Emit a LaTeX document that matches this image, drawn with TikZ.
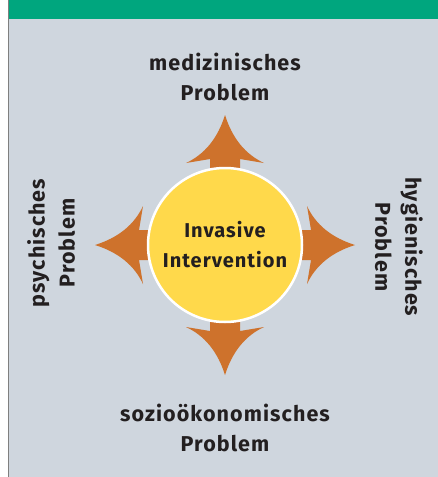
\documentclass[tikz,border=0pt]{standalone}
\usepackage{fontspec}
\setmainfont{Fira Sans}[LetterSpace=5]
\definecolor{bandgreen}{HTML}{00A67E}
\definecolor{panelgrey}{HTML}{CFD6DE}
\definecolor{arroworange}{HTML}{CE722C}
\definecolor{coreyellow}{HTML}{FFD94B}
\definecolor{edgegrey}{HTML}{7F7F7F}
\definecolor{inkdark}{HTML}{231F20}
\tikzset{
  x=1pt, y=1pt,
  label text/.style={font=\bfseries\fontsize{21.5}{30}\selectfont, text=inkdark, align=center, inner sep=0pt},
  core/.style={circle, fill=coreyellow, draw=white, line width=2.5pt, minimum size=154pt, inner sep=0pt,
               font=\bfseries\fontsize{20}{30}\selectfont, text=inkdark, align=center},
}
% one outward arrow, drawn along the local x axis from the centre of the hub
\newcommand\outarrow[1]{%
  \begin{scope}[shift={(hubpt)}, rotate=#1]
    \fill[arroworange] (60,-15) -- (86,-15) -- (82,-39)
      .. controls (90.7,-20.3) and (106.7,-7.3) .. (130,0)
      .. controls (106.7,7.3) and (90.7,20.3) .. (82,39)
      -- (86,15) -- (60,15) -- cycle;
  \end{scope}}
\begin{document}
\begin{tikzpicture}
  \useasboundingbox (0,0) rectangle (438,-477);
  % panel and header band
  \fill[panelgrey] (8,0) rectangle (438,-477);
  \fill[bandgreen] (8,0) rectangle (438,-19);
  \draw[edgegrey, line width=1.2pt] (8.4,0) -- (8.4,-477);

  \coordinate (hubpt) at (225,-245);
  \outarrow{90}
  \outarrow{-90}
  \outarrow{0}
  \outarrow{180}
  \node[core] (hub) at (hubpt) {Invasive\\Intervention};

  \node[label text] (med) at (225,-77) {medizinisches\\Problem};
  \node[label text] (soz) at (225,-428) {sozioökonomisches\\Problem};
  \node[label text, rotate=90] (psy) at (51,-243) {psychisches\\Problem};
  \node[label text, rotate=-90] (hyg) at (399,-247) {hygienisches\\Problem};
\end{tikzpicture}
\end{document}
